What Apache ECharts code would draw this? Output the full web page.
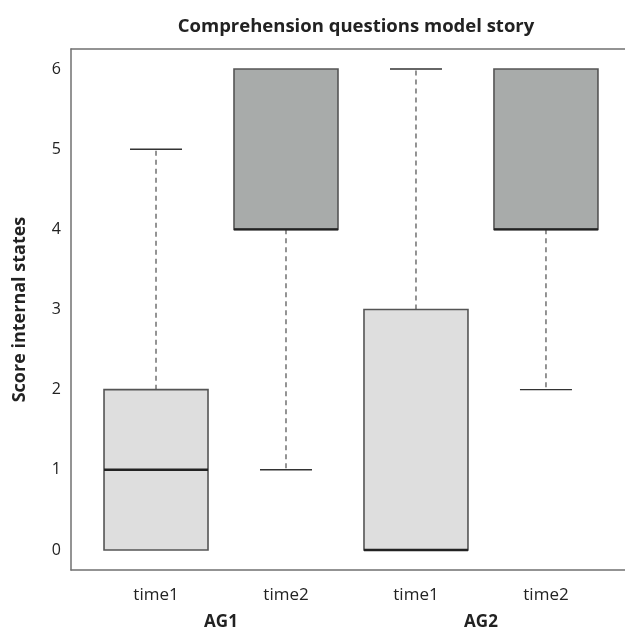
<!DOCTYPE html>
<html>
<head>
<meta charset="utf-8">
<script src="https://cdn.jsdelivr.net/npm/echarts@6/dist/echarts.min.js"></script>
<style>
html,body{margin:0;padding:0;background:#fff;}
#chart{width:625px;height:633px;}
</style>
</head>
<body>
<div id="chart"></div>
<script>
// ---- data ----
var categories = ['time1', 'time2', 'time1', 'time2'];
var groups = ['AG1', 'AG2'];
var positions = [1, 2, 3, 4];
var groupPositions = [1.5, 3.5];
var mins    = [0, 1, 0, 2];
var q1s     = [0, 4, 0, 4];
var medians = [1, 4, 0, 4];
var q3s     = [2, 6, 3, 6];
var maxs    = [5, 6, 6, 6];
var yTicks  = [0, 1, 2, 3, 4, 5, 6];
var fillColors = ['#dedede', '#a8abaa', '#dedede', '#a8abaa'];

var FONT = '"Open Sans", "Noto Sans", sans-serif';
var XMIN = 0.346, XMAX = 4.608;
var frameLine = {show: true, onZero: false, lineStyle: {color: '#707070', width: 1.5}};

var boxData = positions.map(function (p, i) {
  return [p, mins[i], q1s[i], medians[i], q3s[i], maxs[i], i];
});

function renderBox(params, api) {
  var x = api.value(0);
  var mn = api.value(1), q1 = api.value(2), md = api.value(3), q3 = api.value(4), mx = api.value(5);
  var idx = api.value(6);
  var hw = 0.4, cw = 0.2;
  var pL = api.coord([x - hw, q3]);
  var pR = api.coord([x + hw, q1]);
  var c = api.coord([x, 0])[0];
  var yMin = api.coord([x, mn])[1];
  var yQ1 = api.coord([x, q1])[1];
  var yMd = api.coord([x, md])[1];
  var yQ3 = api.coord([x, q3])[1];
  var yMax = api.coord([x, mx])[1];
  var capL = api.coord([x - cw, 0])[0];
  var capR = api.coord([x + cw, 0])[0];
  var children = [];
  if (yMax < yQ3 - 0.5) {
    children.push({type: 'line', shape: {x1: c, y1: yQ3, x2: c, y2: yMax},
      style: {stroke: '#7a7a7a', lineWidth: 1.6, lineDash: [5, 4]}});
    children.push({type: 'line', shape: {x1: capL, y1: yMax, x2: capR, y2: yMax},
      style: {stroke: '#333', lineWidth: 1.4}});
  }
  if (yMin > yQ1 + 0.5) {
    children.push({type: 'line', shape: {x1: c, y1: yQ1, x2: c, y2: yMin},
      style: {stroke: '#7a7a7a', lineWidth: 1.6, lineDash: [5, 4]}});
    children.push({type: 'line', shape: {x1: capL, y1: yMin, x2: capR, y2: yMin},
      style: {stroke: '#333', lineWidth: 1.4}});
  }
  children.push({type: 'rect', shape: {x: pL[0], y: yQ3, width: pR[0] - pL[0], height: yQ1 - yQ3},
    style: {fill: fillColors[idx], stroke: '#555', lineWidth: 1.6}});
  children.push({type: 'line', shape: {x1: pL[0], y1: yMd, x2: pR[0], y2: yMd},
    style: {stroke: '#222', lineWidth: 2.4}});
  return {type: 'group', children: children};
}

var chart = echarts.init(document.getElementById('chart'), null, {renderer: 'canvas'});
chart.setOption({
  animation: false,
  backgroundColor: '#fff',
  title: {
    text: 'Comprehension questions model story',
    left: 351, top: 12, textAlign: 'center',
    textStyle: {fontFamily: FONT, fontSize: 18.5, fontWeight: 'bold', color: '#222'}
  },
  grid: {left: 71, right: 0, top: 49, bottom: 63, show: false},
  xAxis: [{
    type: 'value', min: XMIN, max: XMAX, position: 'bottom',
    axisLine: frameLine, axisTick: {show: false}, splitLine: {show: false},
    axisLabel: {
      customValues: positions, margin: 17,
      formatter: function (v) { return categories[positions.indexOf(Math.round(v))] || ''; },
      fontFamily: FONT, fontSize: 17, color: '#222'
    }
  }, {
    type: 'value', min: XMIN, max: XMAX, position: 'bottom', offset: 27,
    axisLine: {show: false}, axisTick: {show: false}, splitLine: {show: false},
    axisLabel: {
      customValues: groupPositions, margin: 17,
      formatter: function (v) { return groups[groupPositions.indexOf(v)] || ''; },
      fontFamily: FONT, fontSize: 17, fontWeight: 'bold', color: '#222'
    }
  }, {
    type: 'value', min: XMIN, max: XMAX, position: 'top',
    axisLine: frameLine, axisTick: {show: false}, splitLine: {show: false},
    axisLabel: {show: false}
  }],
  yAxis: {
    type: 'value', min: -0.25, max: 6.25,
    name: 'Score internal states', nameLocation: 'middle', nameGap: 42,
    nameTextStyle: {fontFamily: FONT, fontSize: 18, fontWeight: 'bold', color: '#222'},
    axisLine: frameLine, axisTick: {show: false}, splitLine: {show: false},
    axisLabel: {customValues: yTicks, margin: 10, fontFamily: FONT, fontSize: 16, color: '#222'}
  },
  series: [{
    type: 'custom',
    xAxisIndex: 0, yAxisIndex: 0,
    renderItem: renderBox,
    encode: {x: 0, y: [1, 2, 3, 4, 5]},
    data: boxData
  }]
});
</script>
</body>
</html>
